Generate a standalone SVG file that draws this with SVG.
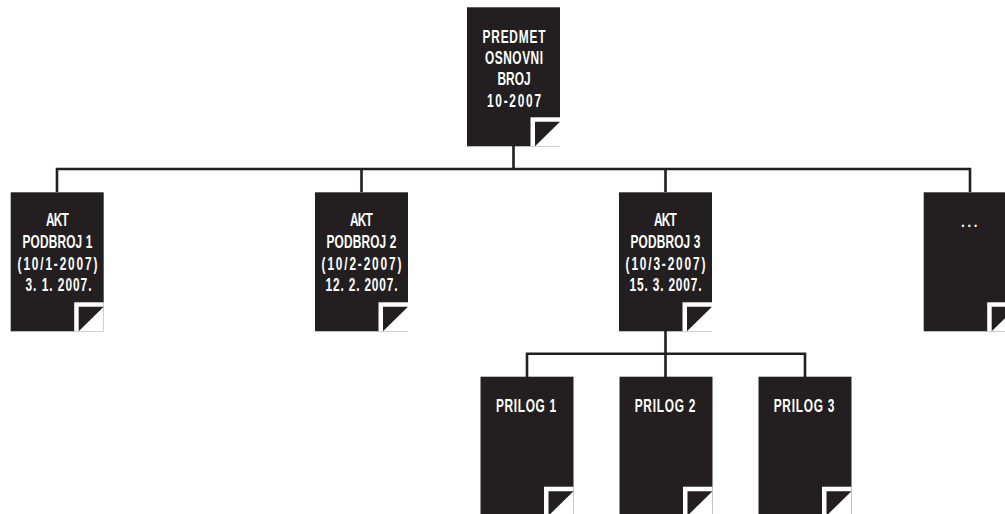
<svg xmlns="http://www.w3.org/2000/svg" width="1005" height="514" viewBox="0 0 1005 514">
<style>
.doc{fill:#231f20}
.fold{fill:#fff}
.t{font-family:"Liberation Sans",Arial,sans-serif;font-weight:700;font-size:18px;fill:#fff;text-anchor:middle}
.e{font-family:"Liberation Sans",Arial,sans-serif;font-size:20px;fill:#fff;text-anchor:middle}
.c{fill:none;stroke:#231f20;stroke-width:2.6}
</style>
<defs>
<g id="d">
<rect class="doc" x="0" y="0" width="93" height="139"/>
<path class="fold" d="M63.500 139V110H93V139Z"/>
<path class="doc" d="M68 114.500H93L68 139Z"/>
</g>
</defs>
<rect width="1005" height="514" fill="#fff"/>
<g id="connectors">
<path class="c" d="M513.500 146V169M57 192V169H970V192M361.500 169V192M665.500 169V192"/>
<path class="c" d="M665.500 331V377M527 377V353.700H805V377"/>
</g>
<g id="predmet"><use href="#d" x="467" y="7.300"/>
<text class="t" transform="matrix(.66 0 0 1 514 42.700)" textLength="95.500" lengthAdjust="spacing">PREDMET</text>
<text class="t" transform="matrix(.66 0 0 1 514 64)" textLength="88" lengthAdjust="spacing">OSNOVNI</text>
<text class="t" transform="matrix(.66 0 0 1 514 85.300)" textLength="50" lengthAdjust="spacing">BROJ</text>
<text class="t" transform="matrix(.66 0 0 1 514 106.700)" textLength="82" lengthAdjust="spacing">10-2007</text></g>
<g id="akt1"><use href="#d" x="10.700" y="192.300"/>
<text class="t" transform="matrix(.66 0 0 1 57.500 226)" textLength="34.500" lengthAdjust="spacing">AKT</text>
<text class="t" transform="matrix(.66 0 0 1 57.500 248)" textLength="106" lengthAdjust="spacing">PODBROJ 1</text>
<text class="t" transform="matrix(.66 0 0 1 57.500 269.500)" textLength="121" lengthAdjust="spacing">(10/1-2007)</text>
<text class="t" transform="matrix(.66 0 0 1 58.500 290.700)" textLength="100" lengthAdjust="spacing">3. 1. 2007.</text></g>
<g id="akt2"><use href="#d" x="315" y="192.300"/>
<text class="t" transform="matrix(.66 0 0 1 361.500 226)" textLength="34.500" lengthAdjust="spacing">AKT</text>
<text class="t" transform="matrix(.66 0 0 1 361.500 248)" textLength="106" lengthAdjust="spacing">PODBROJ 2</text>
<text class="t" transform="matrix(.66 0 0 1 361.500 269.500)" textLength="121" lengthAdjust="spacing">(10/2-2007)</text>
<text class="t" transform="matrix(.66 0 0 1 361.500 290.700)" textLength="109" lengthAdjust="spacing">12. 2. 2007.</text></g>
<g id="akt3"><use href="#d" x="619" y="192.300"/>
<text class="t" transform="matrix(.66 0 0 1 665.500 226)" textLength="34.500" lengthAdjust="spacing">AKT</text>
<text class="t" transform="matrix(.66 0 0 1 665.500 248)" textLength="106" lengthAdjust="spacing">PODBROJ 3</text>
<text class="t" transform="matrix(.66 0 0 1 665.500 269.500)" textLength="121" lengthAdjust="spacing">(10/3-2007)</text>
<text class="t" transform="matrix(.66 0 0 1 665.500 290.700)" textLength="109" lengthAdjust="spacing">15. 3. 2007.</text></g>
<g id="akt4"><use href="#d" x="923.700" y="192.300"/>
<text class="e" x="969.300" y="226.800">…</text></g>
<g id="prilog1"><use href="#d" x="480.500" y="376.700"/>
<text class="t" transform="matrix(.66 0 0 1 526 411.500)" textLength="91" lengthAdjust="spacing">PRILOG 1</text></g>
<g id="prilog2"><use href="#d" x="619.500" y="376.700"/>
<text class="t" transform="matrix(.66 0 0 1 665 411.500)" textLength="92" lengthAdjust="spacing">PRILOG 2</text></g>
<g id="prilog3"><use href="#d" x="758.500" y="376.700"/>
<text class="t" transform="matrix(.66 0 0 1 804 411.500)" textLength="92" lengthAdjust="spacing">PRILOG 3</text></g>
</svg>
